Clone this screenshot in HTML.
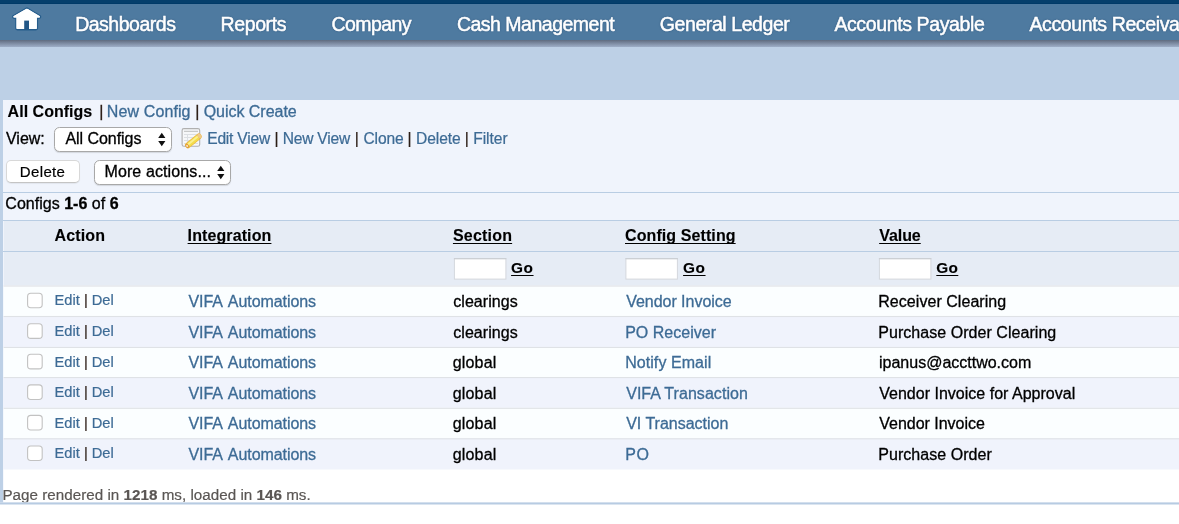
<!DOCTYPE html>
<html>
<head>
<meta charset="utf-8">
<title>All Configs</title>
<style>
html,body{margin:0;padding:0;}
body{width:1179px;height:524px;overflow:hidden;background:#fff;position:relative;
 font-family:"Liberation Sans",Arial,Helvetica,sans-serif;font-size:16px;color:#000;}
.abs{position:absolute;white-space:nowrap;}
.tx b{font-weight:bold;}
.u{text-decoration:underline;text-decoration-thickness:1px;text-underline-offset:2px;text-decoration-skip-ink:none;}
#topband{left:0;top:0;width:1179px;height:4px;background:linear-gradient(to bottom,#053f6c 0,#053f6c 3px,#003a68 3px);}
#nav{left:0;top:4px;width:1179px;height:36px;background:#4e7aa0;}
#navshadow{left:0;top:40px;width:1179px;height:7px;background:linear-gradient(to bottom,#5f6b7f 0%,#9eaec8 100%);}
#band{left:0;top:40px;width:1179px;height:464px;background:#bdd0e6;}
#panel{left:3px;top:100px;width:1176px;height:404px;background:#f0f4fc;}
.hline{left:3px;width:1176px;height:1px;background:#b9cde3;}
.row{left:4px;width:1175px;}
.sep{left:4px;width:1175px;height:1px;background:#dfe1e5;}
.cb{left:27px;width:14px;height:14px;border:1px solid #c4c4c4;border-radius:3.5px;background:#fff;}
.inp{width:52px;height:21px;background:#fff;border:1px solid #e3e6ec;border-top-color:#d4d7dc;box-sizing:border-box;}
.sel{background:#fff;border:1px solid #a8a8a8;border-radius:5.5px;box-sizing:border-box;box-shadow:0 1px 1px rgba(0,0,0,.12);}
.btn{background:#fff;border:1px solid #d8d8d8;border-bottom-color:#c4c4c4;border-radius:5px;box-sizing:border-box;box-shadow:0 1px 1px rgba(0,0,0,.06);}
</style>
</head>
<body>
<div class="abs" id="band"></div>
<div class="abs" id="navshadow"></div>
<div class="abs" id="topband"></div>
<div class="abs" id="nav"></div>
<svg class="abs" id="home" style="left:0;top:0" width="52" height="40" viewBox="0 0 52 40">
 <path d="M26.1 9 Q26.9 8.4 27.7 9 L39.8 16.3 Q40.3 17.5 39.2 17.6 L36.8 17.6 L36.8 28.3 Q36.8 29.1 36 29.1 L17.3 29.1 Q16.5 29.1 16.5 28.3 L16.5 17.6 L14.2 17.6 Q13 17.5 13.5 16.3 Z" fill="#fff" stroke="#205888" stroke-width="2.6" stroke-linejoin="round" stroke-opacity="0.85" paint-order="stroke"/>
 <path d="M26.1 9 Q26.9 8.4 27.7 9 L39.8 16.3 Q40.3 17.5 39.2 17.6 L36.8 17.6 L36.8 28.3 Q36.8 29.1 36 29.1 L17.3 29.1 Q16.5 29.1 16.5 28.3 L16.5 17.6 L14.2 17.6 Q13 17.5 13.5 16.3 Z" fill="#fff"/>
 <rect x="24.2" y="20.6" width="4.8" height="9" fill="#225787"/>
</svg>

<div class="abs" id="panel"></div>

<div class="abs sel" style="left:54px;top:127px;width:118px;height:25px"></div>
<svg class="abs" style="left:157px;top:131px" width="10" height="17" viewBox="0 0 10 17"><path d="M4.8 1.8 L8.4 7 L1.2 7 Z M4.8 15.2 L8.4 10 L1.2 10 Z" fill="#111"/></svg>
<svg class="abs" id="editicon" style="left:180px;top:126px" width="24" height="24" viewBox="0 0 24 24">
 <rect x="2.1" y="2.6" width="17.6" height="17.6" rx="1.8" fill="#f6f7f9" stroke="#b0b0b0" stroke-width="1.1"/>
 <line x1="4" y1="5.3" x2="18" y2="5.3" stroke="#bdbdbd" stroke-width="1"/>
 <g stroke="#dcdfe3" stroke-width="1">
  <line x1="4" y1="8.5" x2="18" y2="8.5"/><line x1="4" y1="11.5" x2="18" y2="11.5"/><line x1="4" y1="14.5" x2="18" y2="14.5"/><line x1="4" y1="17.5" x2="18" y2="17.5"/>
  <line x1="7.5" y1="8" x2="7.5" y2="18"/>
 </g>
 <g transform="translate(13.4,14.9) rotate(-39.5)">
  <rect x="-9.8" y="-2.9" width="19.6" height="5.8" rx="2.4" fill="#e9b53f"/>
  <rect x="-6.4" y="-2.3" width="12.6" height="4.6" fill="#f4dc4c"/>
  <rect x="-6.4" y="-1.5" width="12.6" height="1.8" fill="#faf08e"/>
  <rect x="6.2" y="-2.5" width="3.3" height="5" rx="1.8" fill="#efc98a"/>
  <rect x="-9.4" y="-2.2" width="3" height="4.4" rx="1.6" fill="#e09a35"/>
  <rect x="-8.9" y="-1.2" width="1.8" height="2.2" rx="0.9" fill="#f8e2c0"/>
 </g>
</svg>

<div class="abs btn" style="left:6px;top:160px;width:74px;height:23px"></div>
<div class="abs sel" style="left:94px;top:160px;width:137px;height:25px"></div>
<svg class="abs" style="left:216px;top:164px" width="10" height="17" viewBox="0 0 10 17"><path d="M4.8 1.8 L8.4 7 L1.2 7 Z M4.8 15.2 L8.4 10 L1.2 10 Z" fill="#111"/></svg>

<div class="abs hline" style="top:192px"></div>
<div class="abs hline" style="top:220px"></div>
<div class="abs row" style="top:221px;height:65px;background:#e6ecf5"></div>
<div class="abs hline" style="top:251px"></div>




<svg class="abs" id="rows" style="left:0;top:0" width="1179" height="524" viewBox="0 0 1179 524">
<rect x="3.6" y="469" width="1176" height="34.4" fill="#fff"/>
<rect x="3.6" y="285.50" width="1176" height="30.95" fill="#fbfeff"/>
<rect x="3.6" y="315.95" width="1176" height="31.45" fill="#f0f3fc"/>
<rect x="3.6" y="346.90" width="1176" height="30.60" fill="#fbfeff"/>
<rect x="3.6" y="377.00" width="1176" height="31.25" fill="#f0f3fc"/>
<rect x="3.6" y="407.75" width="1176" height="31.00" fill="#fbfeff"/>
<rect x="3.6" y="438.25" width="1176" height="31.25" fill="#f0f3fc"/>
<rect x="3.6" y="285.50" width="1176" height="1.1" fill="#dfe2e6"/>
<rect x="3.6" y="315.95" width="1176" height="1.1" fill="#dfe2e6"/>
<rect x="3.6" y="346.90" width="1176" height="1.1" fill="#dfe2e6"/>
<rect x="3.6" y="377.00" width="1176" height="1.1" fill="#dfe2e6"/>
<rect x="3.6" y="407.75" width="1176" height="1.1" fill="#dfe2e6"/>
<rect x="3.6" y="438.25" width="1176" height="1.1" fill="#dfe2e6"/>
</svg>
<svg class="abs" id="inputs" style="left:0;top:250px" width="1179" height="36" viewBox="0 250 1179 36">
<rect x="454.40" y="258.7" width="51.5" height="20.4" fill="#fff" stroke="#d4d7dd" stroke-width="1"/>
<rect x="453.90" y="258.2" width="52.5" height="1" fill="#c8cbd0"/>
<rect x="625.90" y="258.7" width="51.5" height="20.4" fill="#fff" stroke="#d4d7dd" stroke-width="1"/>
<rect x="625.40" y="258.2" width="52.5" height="1" fill="#c8cbd0"/>
<rect x="879.40" y="258.7" width="51.5" height="20.4" fill="#fff" stroke="#d4d7dd" stroke-width="1"/>
<rect x="878.90" y="258.2" width="52.5" height="1" fill="#c8cbd0"/>
</svg>
<svg class="abs" id="cbs" style="left:0;top:0" width="60" height="524" viewBox="0 0 60 524">
<rect x="27.6" y="293.20" width="14.6" height="14.6" rx="3.2" fill="#fff" stroke="#c2c2c2" stroke-width="1.1"/>
<rect x="27.6" y="323.75" width="14.6" height="14.6" rx="3.2" fill="#fff" stroke="#c2c2c2" stroke-width="1.1"/>
<rect x="27.6" y="354.30" width="14.6" height="14.6" rx="3.2" fill="#fff" stroke="#c2c2c2" stroke-width="1.1"/>
<rect x="27.6" y="384.85" width="14.6" height="14.6" rx="3.2" fill="#fff" stroke="#c2c2c2" stroke-width="1.1"/>
<rect x="27.6" y="415.40" width="14.6" height="14.6" rx="3.2" fill="#fff" stroke="#c2c2c2" stroke-width="1.1"/>
<rect x="27.6" y="445.95" width="14.6" height="14.6" rx="3.2" fill="#fff" stroke="#c2c2c2" stroke-width="1.1"/>
</svg>
<div class="abs tx" id="n1" style="left:75.16px;top:13px;font-size:19.5px;line-height:22px;color:#fff;letter-spacing:-0.491px;text-shadow:0 0 2px rgba(20,50,90,.6);-webkit-text-stroke:0.5px;">Dashboards</div>
<div class="abs tx" id="n2" style="left:220.54px;top:13px;font-size:19.5px;line-height:22px;color:#fff;letter-spacing:-0.384px;text-shadow:0 0 2px rgba(20,50,90,.6);-webkit-text-stroke:0.5px;">Reports</div>
<div class="abs tx" id="n3" style="left:331.61px;top:13px;font-size:19.5px;line-height:22px;color:#fff;letter-spacing:-0.595px;text-shadow:0 0 2px rgba(20,50,90,.6);-webkit-text-stroke:0.5px;">Company</div>
<div class="abs tx" id="n4" style="left:456.92px;top:13px;font-size:19.5px;line-height:22px;color:#fff;letter-spacing:-0.497px;text-shadow:0 0 2px rgba(20,50,90,.6);-webkit-text-stroke:0.5px;">Cash Management</div>
<div class="abs tx" id="n5" style="left:659.87px;top:13px;font-size:19.5px;line-height:22px;color:#fff;letter-spacing:-0.426px;text-shadow:0 0 2px rgba(20,50,90,.6);-webkit-text-stroke:0.5px;">General Ledger</div>
<div class="abs tx" id="n6" style="left:834.38px;top:13px;font-size:19.5px;line-height:22px;color:#fff;letter-spacing:-0.379px;text-shadow:0 0 2px rgba(20,50,90,.6);-webkit-text-stroke:0.5px;">Accounts Payable</div>
<div class="abs tx" id="n7" style="left:1029.47px;top:13px;font-size:19.5px;line-height:22px;color:#fff;letter-spacing:-0.379px;text-shadow:0 0 2px rgba(20,50,90,.6);-webkit-text-stroke:0.5px;">Accounts Receivable</div>
<div class="abs tx" id="h1" style="left:7.60px;top:102px;font-size:16px;line-height:20px;font-weight:bold;letter-spacing:0.024px;-webkit-text-stroke:0.12px;">All Configs</div>
<div class="abs tx" id="h1s" style="left:99.35px;top:102px;font-size:16px;line-height:20px;color:#2b1d16;-webkit-text-stroke:0.3px;">|</div>
<div class="abs tx" id="h2" style="left:106.87px;top:102px;font-size:16px;line-height:20px;color:#3d6b95;letter-spacing:0.105px;-webkit-text-stroke:0.3px;">New Config</div>
<div class="abs tx" id="h2s" style="left:195.20px;top:102px;font-size:16px;line-height:20px;color:#2b1d16;-webkit-text-stroke:0.3px;">|</div>
<div class="abs tx" id="h3" style="left:203.64px;top:102px;font-size:16px;line-height:20px;color:#3d6b95;letter-spacing:-0.022px;-webkit-text-stroke:0.3px;">Quick Create</div>
<div class="abs tx" id="v0" style="left:5.96px;top:129px;font-size:16px;line-height:20px;letter-spacing:0.003px;-webkit-text-stroke:0.3px;">View:</div>
<div class="abs tx" id="v1" style="left:65.49px;top:129px;font-size:16px;line-height:20px;letter-spacing:-0.053px;-webkit-text-stroke:0.3px;">All Configs</div>
<div class="abs tx" id="v2" style="left:207.24px;top:129px;font-size:15.6px;line-height:20px;color:#3d6b95;letter-spacing:-0.217px;-webkit-text-stroke:0.22px;">Edit View</div>
<div class="abs tx" id="v2s" style="left:274.52px;top:129px;font-size:15.6px;line-height:20px;color:#2b1d16;-webkit-text-stroke:0.22px;">|</div>
<div class="abs tx" id="v3" style="left:282.67px;top:129px;font-size:15.6px;line-height:20px;color:#3d6b95;letter-spacing:-0.213px;-webkit-text-stroke:0.22px;">New View</div>
<div class="abs tx" id="v3s" style="left:354.83px;top:129px;font-size:15.6px;line-height:20px;color:#2b1d16;-webkit-text-stroke:0.22px;">|</div>
<div class="abs tx" id="v4" style="left:363.42px;top:129px;font-size:15.6px;line-height:20px;color:#3d6b95;letter-spacing:-0.121px;-webkit-text-stroke:0.22px;">Clone</div>
<div class="abs tx" id="v4s" style="left:407.57px;top:129px;font-size:15.6px;line-height:20px;color:#2b1d16;-webkit-text-stroke:0.22px;">|</div>
<div class="abs tx" id="v5" style="left:416.12px;top:129px;font-size:15.6px;line-height:20px;color:#3d6b95;letter-spacing:-0.127px;-webkit-text-stroke:0.22px;">Delete</div>
<div class="abs tx" id="v5s" style="left:464.64px;top:129px;font-size:15.6px;line-height:20px;color:#2b1d16;-webkit-text-stroke:0.22px;">|</div>
<div class="abs tx" id="v6" style="left:473.24px;top:129px;font-size:15.6px;line-height:20px;color:#3d6b95;letter-spacing:-0.054px;-webkit-text-stroke:0.22px;">Filter</div>
<div class="abs tx" id="b1" style="left:19.87px;top:162px;font-size:15px;line-height:20px;letter-spacing:0.344px;-webkit-text-stroke:0.2px;">Delete</div>
<div class="abs tx" id="b2" style="left:104.44px;top:162px;font-size:16px;line-height:20px;letter-spacing:0.115px;-webkit-text-stroke:0.3px;">More actions...</div>
<div class="abs tx" id="c1" style="left:5.33px;top:194px;font-size:16px;line-height:20px;letter-spacing:0.017px;-webkit-text-stroke:0.3px;">Configs <b>1-6</b> of <b>6</b></div>
<div class="abs tx" id="th1" style="left:54.60px;top:226px;font-size:16px;line-height:20px;font-weight:bold;letter-spacing:0.108px;-webkit-text-stroke:0.12px;">Action</div>
<div class="abs tx u" id="th2" style="left:187.61px;top:226px;font-size:16px;line-height:20px;font-weight:bold;letter-spacing:0.103px;-webkit-text-stroke:0.12px;">Integration</div>
<div class="abs tx u" id="th3" style="left:452.94px;top:226px;font-size:16px;line-height:20px;font-weight:bold;letter-spacing:0.199px;-webkit-text-stroke:0.12px;">Section</div>
<div class="abs tx u" id="th4" style="left:625.03px;top:226px;font-size:16px;line-height:20px;font-weight:bold;letter-spacing:0.093px;-webkit-text-stroke:0.12px;">Config Setting</div>
<div class="abs tx u" id="th5" style="left:879.15px;top:226px;font-size:16px;line-height:20px;font-weight:bold;letter-spacing:-0.043px;-webkit-text-stroke:0.12px;">Value</div>
<div class="abs tx u" id="g1" style="left:511.09px;top:258px;font-size:15.4px;line-height:20px;font-weight:bold;letter-spacing:0.538px;-webkit-text-stroke:0.12px;">Go</div>
<div class="abs tx u" id="g2" style="left:683.09px;top:258px;font-size:15.4px;line-height:20px;font-weight:bold;letter-spacing:0.538px;-webkit-text-stroke:0.12px;">Go</div>
<div class="abs tx u" id="g3" style="left:936.34px;top:258px;font-size:15.4px;line-height:20px;font-weight:bold;letter-spacing:0.296px;-webkit-text-stroke:0.12px;">Go</div>
<div class="abs tx" id="r0e" style="left:54.60px;top:290px;font-size:14.67px;line-height:20px;color:#3d6b95;letter-spacing:-0.035px;-webkit-text-stroke:0.2px;">Edit</div>
<div class="abs tx" id="r0s" style="left:84.07px;top:290px;font-size:14.67px;line-height:20px;color:#2b1d16;-webkit-text-stroke:0.2px;">|</div>
<div class="abs tx" id="r0d" style="left:91.74px;top:290px;font-size:14.67px;line-height:20px;color:#3d6b95;letter-spacing:-0.031px;-webkit-text-stroke:0.2px;">Del</div>
<div class="abs tx" id="r0i" style="left:188.49px;top:292px;font-size:16px;line-height:20px;color:#3d6b95;letter-spacing:-0.075px;word-spacing:2.4px;-webkit-text-stroke:0.3px;">VIFA Automations</div>
<div class="abs tx" id="r0c" style="left:453.28px;top:292px;font-size:16px;line-height:20px;letter-spacing:0.051px;-webkit-text-stroke:0.3px;">clearings</div>
<div class="abs tx" id="r0g" style="left:626.17px;top:292px;font-size:16px;line-height:20px;color:#3d6b95;letter-spacing:-0.028px;-webkit-text-stroke:0.3px;">Vendor Invoice</div>
<div class="abs tx" id="r0v" style="left:878.26px;top:292px;font-size:16px;line-height:20px;letter-spacing:0.047px;-webkit-text-stroke:0.3px;">Receiver Clearing</div>
<div class="abs tx" id="r1e" style="left:54.60px;top:321px;font-size:14.67px;line-height:20px;color:#3d6b95;letter-spacing:-0.035px;-webkit-text-stroke:0.2px;">Edit</div>
<div class="abs tx" id="r1s" style="left:84.07px;top:321px;font-size:14.67px;line-height:20px;color:#2b1d16;-webkit-text-stroke:0.2px;">|</div>
<div class="abs tx" id="r1d" style="left:91.74px;top:321px;font-size:14.67px;line-height:20px;color:#3d6b95;letter-spacing:-0.031px;-webkit-text-stroke:0.2px;">Del</div>
<div class="abs tx" id="r1i" style="left:188.49px;top:323px;font-size:16px;line-height:20px;color:#3d6b95;letter-spacing:-0.075px;word-spacing:2.4px;-webkit-text-stroke:0.3px;">VIFA Automations</div>
<div class="abs tx" id="r1c" style="left:453.28px;top:323px;font-size:16px;line-height:20px;letter-spacing:0.051px;-webkit-text-stroke:0.3px;">clearings</div>
<div class="abs tx" id="r1g" style="left:625.17px;top:323px;font-size:16px;line-height:20px;color:#3d6b95;letter-spacing:0.021px;-webkit-text-stroke:0.3px;">PO Receiver</div>
<div class="abs tx" id="r1v" style="left:878.26px;top:323px;font-size:16px;line-height:20px;letter-spacing:0.047px;-webkit-text-stroke:0.3px;">Purchase Order Clearing</div>
<div class="abs tx" id="r2e" style="left:54.60px;top:352px;font-size:14.67px;line-height:20px;color:#3d6b95;letter-spacing:-0.035px;-webkit-text-stroke:0.2px;">Edit</div>
<div class="abs tx" id="r2s" style="left:84.07px;top:352px;font-size:14.67px;line-height:20px;color:#2b1d16;-webkit-text-stroke:0.2px;">|</div>
<div class="abs tx" id="r2d" style="left:91.74px;top:352px;font-size:14.67px;line-height:20px;color:#3d6b95;letter-spacing:-0.031px;-webkit-text-stroke:0.2px;">Del</div>
<div class="abs tx" id="r2i" style="left:188.49px;top:353px;font-size:16px;line-height:20px;color:#3d6b95;letter-spacing:-0.075px;word-spacing:2.4px;-webkit-text-stroke:0.3px;">VIFA Automations</div>
<div class="abs tx" id="r2c" style="left:452.78px;top:353px;font-size:16px;line-height:20px;letter-spacing:0.165px;-webkit-text-stroke:0.3px;">global</div>
<div class="abs tx" id="r2g" style="left:625.17px;top:353px;font-size:16px;line-height:20px;color:#3d6b95;letter-spacing:0.066px;-webkit-text-stroke:0.3px;">Notify Email</div>
<div class="abs tx" id="r2v" style="left:879.00px;top:353px;font-size:16px;line-height:20px;letter-spacing:-0.002px;-webkit-text-stroke:0.3px;">ipanus@accttwo.com</div>
<div class="abs tx" id="r3e" style="left:54.60px;top:382px;font-size:14.67px;line-height:20px;color:#3d6b95;letter-spacing:-0.035px;-webkit-text-stroke:0.2px;">Edit</div>
<div class="abs tx" id="r3s" style="left:84.07px;top:382px;font-size:14.67px;line-height:20px;color:#2b1d16;-webkit-text-stroke:0.2px;">|</div>
<div class="abs tx" id="r3d" style="left:91.74px;top:382px;font-size:14.67px;line-height:20px;color:#3d6b95;letter-spacing:-0.031px;-webkit-text-stroke:0.2px;">Del</div>
<div class="abs tx" id="r3i" style="left:188.49px;top:384px;font-size:16px;line-height:20px;color:#3d6b95;letter-spacing:-0.075px;word-spacing:2.4px;-webkit-text-stroke:0.3px;">VIFA Automations</div>
<div class="abs tx" id="r3c" style="left:452.78px;top:384px;font-size:16px;line-height:20px;letter-spacing:0.165px;-webkit-text-stroke:0.3px;">global</div>
<div class="abs tx" id="r3g" style="left:626.17px;top:384px;font-size:16px;line-height:20px;color:#3d6b95;letter-spacing:0.049px;-webkit-text-stroke:0.3px;">VIFA Transaction</div>
<div class="abs tx" id="r3v" style="left:879.26px;top:384px;font-size:16px;line-height:20px;letter-spacing:0.010px;-webkit-text-stroke:0.3px;">Vendor Invoice for Approval</div>
<div class="abs tx" id="r4e" style="left:54.60px;top:413px;font-size:14.67px;line-height:20px;color:#3d6b95;letter-spacing:-0.035px;-webkit-text-stroke:0.2px;">Edit</div>
<div class="abs tx" id="r4s" style="left:84.07px;top:413px;font-size:14.67px;line-height:20px;color:#2b1d16;-webkit-text-stroke:0.2px;">|</div>
<div class="abs tx" id="r4d" style="left:91.74px;top:413px;font-size:14.67px;line-height:20px;color:#3d6b95;letter-spacing:-0.031px;-webkit-text-stroke:0.2px;">Del</div>
<div class="abs tx" id="r4i" style="left:188.49px;top:414px;font-size:16px;line-height:20px;color:#3d6b95;letter-spacing:-0.075px;word-spacing:2.4px;-webkit-text-stroke:0.3px;">VIFA Automations</div>
<div class="abs tx" id="r4c" style="left:452.78px;top:414px;font-size:16px;line-height:20px;letter-spacing:0.165px;-webkit-text-stroke:0.3px;">global</div>
<div class="abs tx" id="r4g" style="left:626.17px;top:414px;font-size:16px;line-height:20px;color:#3d6b95;letter-spacing:-0.011px;-webkit-text-stroke:0.3px;">VI Transaction</div>
<div class="abs tx" id="r4v" style="left:879.26px;top:414px;font-size:16px;line-height:20px;letter-spacing:-0.022px;-webkit-text-stroke:0.3px;">Vendor Invoice</div>
<div class="abs tx" id="r5e" style="left:54.60px;top:443px;font-size:14.67px;line-height:20px;color:#3d6b95;letter-spacing:-0.035px;-webkit-text-stroke:0.2px;">Edit</div>
<div class="abs tx" id="r5s" style="left:84.07px;top:443px;font-size:14.67px;line-height:20px;color:#2b1d16;-webkit-text-stroke:0.2px;">|</div>
<div class="abs tx" id="r5d" style="left:91.74px;top:443px;font-size:14.67px;line-height:20px;color:#3d6b95;letter-spacing:-0.031px;-webkit-text-stroke:0.2px;">Del</div>
<div class="abs tx" id="r5i" style="left:188.49px;top:445px;font-size:16px;line-height:20px;color:#3d6b95;letter-spacing:-0.075px;word-spacing:2.4px;-webkit-text-stroke:0.3px;">VIFA Automations</div>
<div class="abs tx" id="r5c" style="left:452.78px;top:445px;font-size:16px;line-height:20px;letter-spacing:0.165px;-webkit-text-stroke:0.3px;">global</div>
<div class="abs tx" id="r5g" style="left:625.17px;top:445px;font-size:16px;line-height:20px;color:#3d6b95;letter-spacing:0.614px;-webkit-text-stroke:0.3px;">PO</div>
<div class="abs tx" id="r5v" style="left:878.26px;top:445px;font-size:16px;line-height:20px;letter-spacing:0.041px;-webkit-text-stroke:0.3px;">Purchase Order</div>
<div class="abs tx" id="f1" style="left:2.38px;top:485px;font-size:15.2px;line-height:20px;color:#5a5654;letter-spacing:0.023px;-webkit-text-stroke:0.2px;">Page rendered in <b>1218</b> ms, loaded in <b>146</b> ms.</div>

<svg class="abs" style="left:0;top:495px" width="1179" height="29" viewBox="0 495 1179 29"><rect x="0" y="502.4" width="1179" height="22" fill="#fff"/><rect x="0" y="502.4" width="1179" height="2.1" fill="#b7cbe2"/></svg>
</body>
</html>
